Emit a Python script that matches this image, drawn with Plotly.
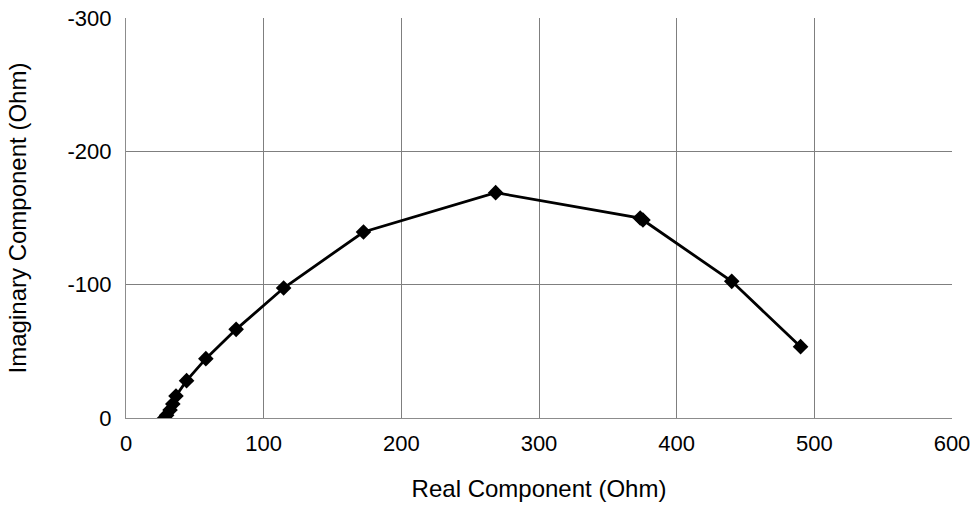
import plotly.graph_objects as go

# Impedance sweep: real and imaginary parts (Ohm)
real_ohm = [28.0, 29.5, 32.0, 34.0, 36.3, 44.0, 58.0, 80.0, 114.5, 172.5, 268.5, 373.5, 375.5, 440.0, 490.0]
imag_ohm = [0.0, -2.0, -6.0, -10.5, -16.5, -28.0, -44.5, -66.5, -97.5, -139.5, -169.0, -150.0, -148.5, -102.5, -53.5]

x_ticks = [0, 100, 200, 300, 400, 500, 600]
y_ticks = [0, -100, -200, -300]
y_tick_text = ["0", "-100", "-200", "-300"]

FONT = "Liberation Sans, Arial, sans-serif"

fig = go.Figure(
    go.Scatter(
        x=real_ohm,
        y=imag_ohm,
        mode="lines+markers",
        line=dict(color="black", width=2.8),
        marker=dict(symbol="diamond", size=12, color="black"),
        showlegend=False,
    )
)

axis_common = dict(
    showgrid=True,
    gridcolor="#7f7f7f",
    gridwidth=1,
    showline=True,
    linecolor="#8c8c8c",
    linewidth=1,
    mirror=False,
    zeroline=False,
    automargin=False,
    ticks="",
    tickfont=dict(family=FONT, size=22, color="black"),
)

fig.update_xaxes(
    range=[0, 600],
    tickvals=x_ticks,
    ticklabelstandoff=6,
    title=dict(text="Real Component (Ohm)", font=dict(family=FONT, size=24, color="black"), standoff=24),
    **axis_common,
)
fig.update_yaxes(
    range=[0, -300],
    tickvals=y_ticks,
    ticktext=y_tick_text,
    ticklabelstandoff=9,
    title=dict(text="Imaginary Component (Ohm)", font=dict(family=FONT, size=24, color="black"), standoff=34),
    **axis_common,
)

fig.update_layout(
    width=980,
    height=506,
    margin=dict(l=126, r=28, t=18, b=88, autoexpand=False),
    plot_bgcolor="white",
    paper_bgcolor="white",
)

fig.write_html("out.html")
